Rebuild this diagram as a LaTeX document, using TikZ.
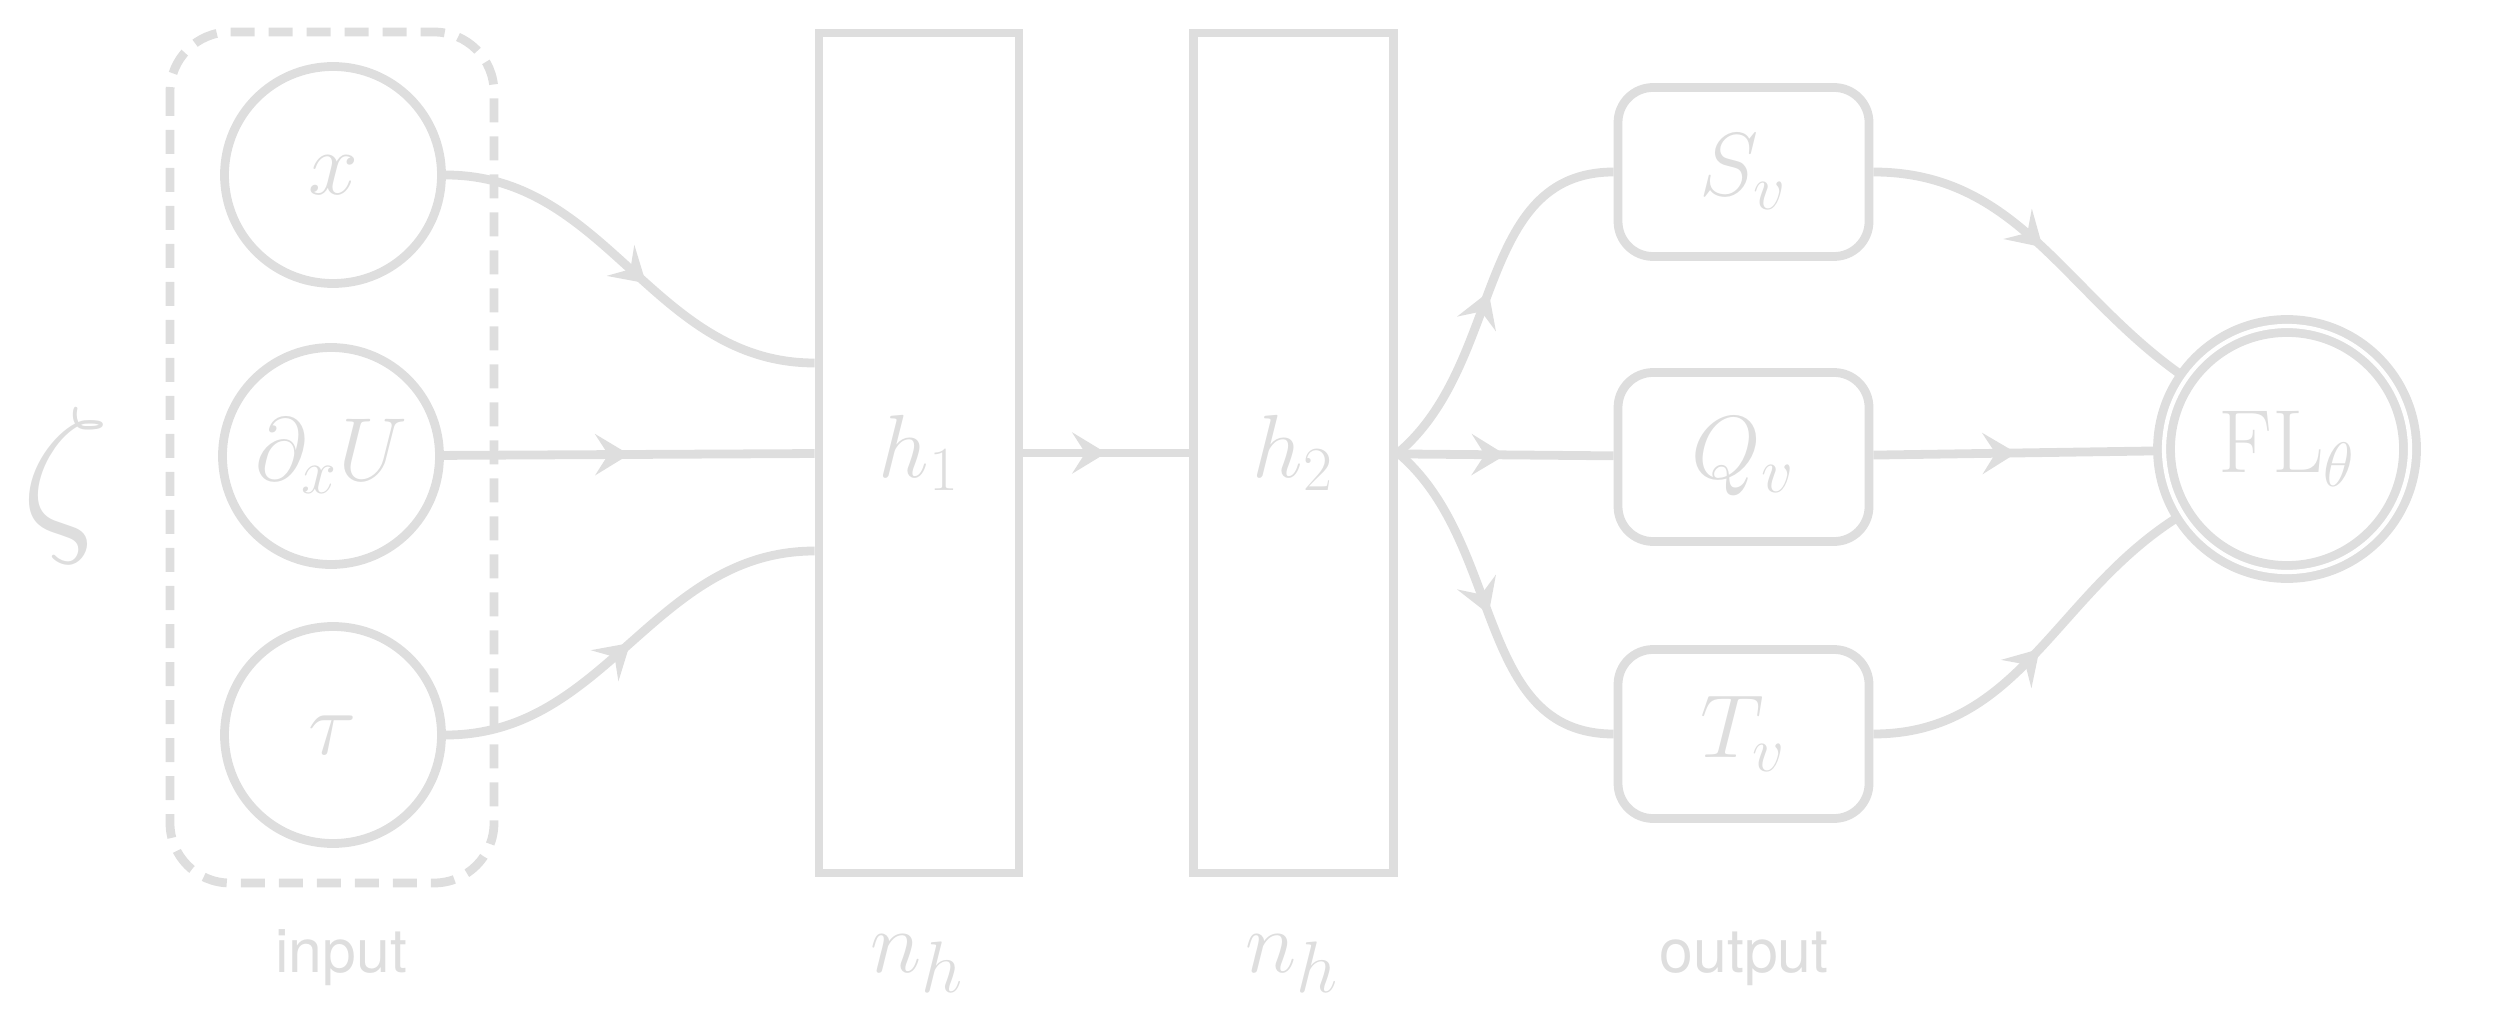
\RequirePackage{fix-cm}
\documentclass[tikz,border=0pt]{standalone}
\usepackage{fontspec}
\setsansfont{TeX Gyre Heros}
\usepackage{tikz}
\usetikzlibrary{arrows.meta,decorations.markings}
\definecolor{netgray}{HTML}{DEDEDE}
\newcommand{\labelsize}{\fontsize{25.5}{31}\selectfont}

\begin{document}
\begin{tikzpicture}[
  color=netgray, line width=2.5pt,
  invar/.style={circle, draw, minimum size=2.17cm, inner sep=0pt, font=\labelsize},
  layer/.style={rectangle, draw, minimum width=2cm, minimum height=8.4cm, font=\labelsize},
  outvar/.style={rectangle, draw, rounded corners=3.5mm, minimum width=2.51cm, minimum height=1.69cm, font=\labelsize},
  loss/.style={circle, draw, double, double distance=1.2pt, minimum size=2.46cm, inner sep=0pt, font=\labelsize},
  caption/.style={anchor=base, font=\sffamily\LARGE},
  midarrow/.style={postaction={decorate}, decoration={markings, mark=at position #1 with {\arrow{Stealth[length=3.4mm, width=4.1mm, inset=1.3mm]}}}},
  midarrow/.default=0.5
]
\useasboundingbox (0,0) rectangle (25,-10.34);
\draw[rounded corners=6mm, dash pattern=on 2.4mm off 1.4mm] (1.70,-0.32) rectangle (4.94,-8.83);
\node[font=\fontsize{50}{60}\selectfont] (zeta) at (0.66,-4.86) {$\zeta$};
\node[invar] (x) at (3.33,-1.75) {$x$};
\node[invar] (dxU) at (3.31,-4.56) {$\partial_x U$};
\node[invar] (tau) at (3.33,-7.35) {$\tau$};
\node[layer] (h1) at (9.19,-4.53) {$h_1$};
\node[layer] (h2) at (12.935,-4.53) {$h_2$};
\node[outvar] (Sv) at (17.435,-1.72) {$S_v$};
\node[outvar] (Qv) at (17.435,-4.57) {$Q_v$};
\node[outvar] (Tv) at (17.435,-7.34) {$T_v$};
\node[loss] (FL) at (22.87,-4.49) {$\mathrm{FL}_\theta$};
\node[caption] (input) at (3.41,-9.72) {input};
\node[caption, font=\Huge] (nh1) at (9.17,-9.72) {$n_h$};
\node[caption, font=\Huge] (nh2) at (12.92,-9.72) {$n_h$};
\node[caption] (output) at (17.44,-9.72) {output};
% inputs to first layer
\draw[midarrow=0.55] (x) to[out=0, in=180] ([yshift=9mm]h1.west);
\draw[midarrow] (tau) to[out=0, in=180] ([yshift=-9.8mm]h1.west);
\foreach \a/\b in {dxU/h1,h1/h2,h2/Qv,Qv/FL} \draw[midarrow] (\a) -- (\b);
% second layer to outputs
\draw[midarrow] (h2.east) to[out=40, in=180] (Sv);
\draw[midarrow] (h2.east) to[out=-40, in=180] (Tv);
\draw[midarrow] (Sv) to[out=0, in=145] (FL);
\draw[midarrow] (Tv) to[out=0, in=212] (FL);
\end{tikzpicture}
\end{document}
